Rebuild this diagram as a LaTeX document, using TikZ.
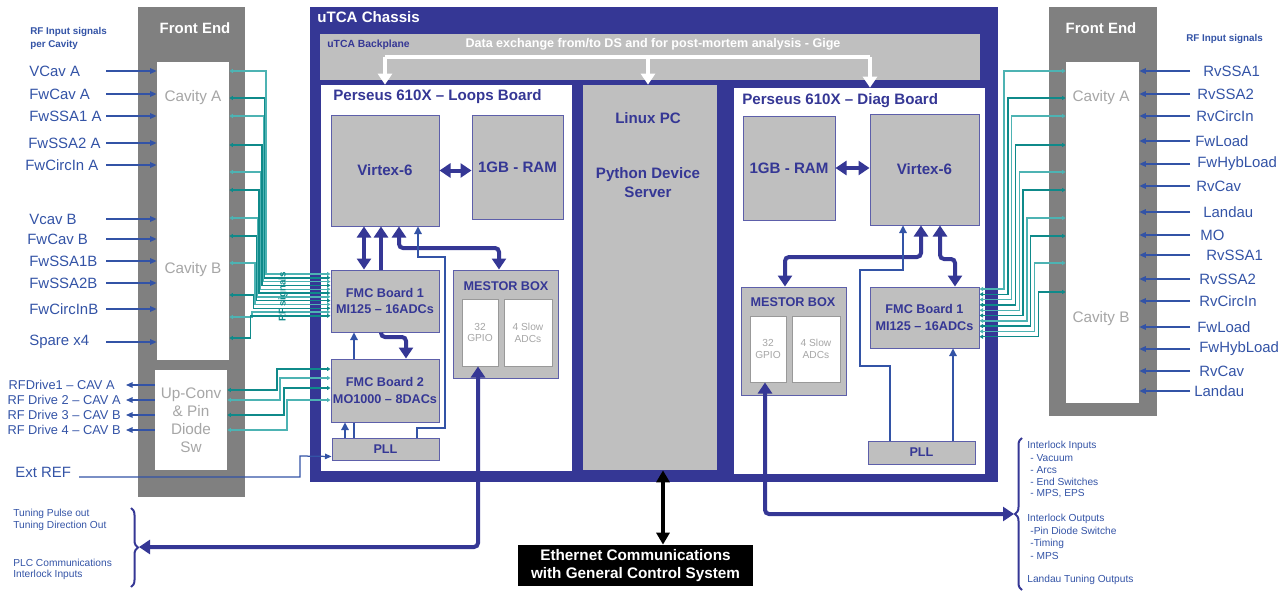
\documentclass[tikz,border=0pt]{standalone}
\usepackage{fontspec}
\setmainfont{Liberation Sans}
\usepackage{tikz}
\usetikzlibrary{positioning}
\usetikzlibrary{arrows.meta}
\usetikzlibrary{math}
\usetikzlibrary{calc}
\usetikzlibrary{decorations.pathreplacing}

\definecolor{chassisblue}{HTML}{353795}
\definecolor{signalblue}{HTML}{3353A6}
\definecolor{panelgray}{HTML}{808080}
\definecolor{chipgray}{HTML}{BFBFBF}
\definecolor{cavgray}{HTML}{A6A6A6}
\definecolor{rfdark}{HTML}{0F8A8A}
\definecolor{rflight}{HTML}{4DB3B3}

\tikzset{
  corners/.style n args={4}{inner sep=0pt, minimum width={(#3-#1)*0.2mm}, minimum height={(#4-#2)*0.2mm},
    at={({(#1+#3)/2},{(#2+#4)/2})}},
  panel/.style={fill=panelgray},
  cavbox/.style={fill=white},
  cavtext/.style={text=cavgray, font=\fontsize{8.7}{10.2}\selectfont, align=center},
  fetitle/.style={text=white, font=\bfseries\fontsize{8.5}{10}\selectfont},
  chip/.style={fill=chipgray, draw=chassisblue!80, line width=0.2mm,
    text=chassisblue, font=\bfseries\fontsize{8.6}{10.5}\selectfont, align=center},
  fmc/.style={chip, font=\bfseries\fontsize{7.2}{9.6}\selectfont},
  chiptext/.style={text=chassisblue, font=\bfseries\fontsize{8.6}{10.8}\selectfont, align=center},
  mestortitle/.style={text=chassisblue, font=\bfseries\fontsize{7.2}{9}\selectfont},
  subchip/.style={fill=white, draw=gray!80, line width=0.2mm,
    text=cavgray, font=\fontsize{5.8}{6.8}\selectfont, align=center},
  board/.style={fill=white},
  boardtitle/.style={anchor=west, inner sep=0pt, text=chassisblue, font=\bfseries\fontsize{8.6}{10}\selectfont},
  siglabel/.style={anchor=west, inner sep=0pt, text=signalblue, font=\fontsize{8.5}{10}\selectfont},
  drivelabel/.style={anchor=east, inner sep=0pt, text=signalblue, font=\fontsize{7.3}{9}\selectfont},
  notelabel/.style={anchor=west, inner sep=0pt, text=signalblue, font=\fontsize{5.8}{7}\selectfont},
  headlabel/.style={anchor=north west, inner sep=0pt, text=signalblue, font=\bfseries\fontsize{5.6}{7.4}\selectfont, align=left},
  sig/.style={signalblue, line width=0.25mm, -{Triangle[length=1.3mm,width=1.1mm]}},
  link/.style={signalblue, line width=0.25mm, -{Triangle[length=1.5mm,width=1.5mm]}},
  rf/.style={line width=0.28mm, {Triangle[length=0.7mm,width=0.8mm]}-{Triangle[length=0.7mm,width=0.8mm]}},
  bus/.style={chassisblue, line width=0.8mm, rounded corners=0.8mm, -{Triangle[length=2.2mm,width=2.8mm]}},
  busboth/.style={bus, {Triangle[length=2.2mm,width=2.8mm]}-{Triangle[length=2.2mm,width=2.8mm]}},
  datalink/.style={white, line width=0.8mm, -{Triangle[length=2.2mm,width=2.8mm]}},
  ethlink/.style={black, line width=0.8mm, {Triangle[length=2.4mm,width=2.6mm]}-{Triangle[length=2.4mm,width=2.6mm]}},
  curly/.style={chassisblue, line width=0.4mm, decorate, decoration={brace, amplitude=1.4mm}},
}

\begin{document}
\begin{tikzpicture}[x=0.2mm, y=-0.2mm]

  \tikzmath{
    \bundlestepL = 1.4; % shift of the vertical runs, left bundle
    \bundlegapL  = 3.8; % spacing of the lines at FMC board 1, loops
    \bundlestepR = 3.8; % shift of the vertical runs, right bundle
    \bundlegapR  = 5.3; % spacing of the lines at FMC board 1, diag
  }

  \useasboundingbox (0,0) rectangle (1287,591);

  % Left front end
  \node[panel, corners={138}{7}{245}{497}] (feL) {};
  \node[fetitle] (feLtitle) at (195,28) {Front End};
  \node[cavbox, corners={157}{62}{229}{360}] (cavL) {};
  \node[cavtext] (cavLa) at (193,98) {Cavity A};
  \node[cavtext] (cavLb) at (193,270) {Cavity B};
  \node[cavbox, cavtext, corners={155}{370}{227}{470}] (upconv) {Up-Conv\\\& Pin\\Diode\\Sw};

  % Right front end
  \node[panel, corners={1049}{7}{1157}{416}] (feR) {};
  \node[fetitle] (feRtitle) at (1101,28) {Front End};
  \node[cavbox, corners={1066}{62}{1139}{403}] (cavR) {};
  \node[cavtext] (cavRa) at (1101,98) {Cavity A};
  \node[cavtext] (cavRb) at (1101,319) {Cavity B};

  % uTCA chassis and backplane
  \node[fill=chassisblue, corners={310}{7}{998}{482}] (chassis) {};
  \node[anchor=west, inner sep=0pt, text=white, font=\bfseries\fontsize{8.6}{10}\selectfont] (chassistitle) at (317,17) {uTCA Chassis};
  \node[fill=chipgray, corners={320}{34}{980}{80}] (backplane) {};
  \node[anchor=west, inner sep=0pt, text=chassisblue, font=\bfseries\fontsize{5.9}{7}\selectfont] (bptitle) at (327,45) {uTCA Backplane};
  \node[text=white, font=\bfseries\fontsize{7.15}{8}\selectfont] (bpdata) at (653,44) {Data exchange from/to DS and for post-mortem analysis - Gige};

  % Boards
  \node[board, corners={321}{85}{572}{471}] (loops) {};
  \node[boardtitle] (loopstitle) at (333,97) {Perseus 610X \textendash{} Loops Board};
  \node[board, corners={734}{88}{985}{474}] (diag) {};
  \node[boardtitle] (diagtitle) at (742,101) {Perseus 610X \textendash{} Diag Board};
  \node[fill=chipgray, corners={583}{85}{717}{470}] (linux) {};
  \node[chiptext] (linuxname) at (648,118) {Linux PC};
  \node[chiptext] (linuxsrv) at (648,183) {Python Device\\Server};

  % Loops board parts
  \node[chip, corners={331}{115}{439}{226}] (virtL) {Virtex-6};
  \node[chip, corners={472}{115}{563}{219}] (ramL) {1GB - RAM};
  \node[fmc, corners={331}{270}{439}{332}] (fmcL1) {FMC Board 1\\MI125 \textendash{} 16ADCs};
  \node[fmc, corners={331}{359}{439}{422}] (fmcL2) {FMC Board 2\\MO1000 \textendash{} 8DACs};
  \node[fmc, corners={332}{438}{439}{460}] (pllL) {PLL};
  \node[chip, corners={453}{270}{558}{378}] (mestorL) {};
  \node[mestortitle] (mestorLtitle) at (506,286) {MESTOR BOX};
  \node[subchip, corners={462}{299}{498}{366}] (gpioL) {32\\GPIO};
  \node[subchip, corners={504}{299}{552}{366}] (adcL) {4 Slow\\ADCs};

  % Diag board parts
  \node[chip, corners={743}{116}{835}{220}] (ramD) {1GB - RAM};
  \node[chip, corners={870}{114}{979}{225}] (virtD) {Virtex-6};
  \node[fmc, corners={870}{287}{979}{348}] (fmcD) {FMC Board 1\\MI125 \textendash{} 16ADCs};
  \node[fmc, corners={868}{441}{975}{464}] (pllD) {PLL};
  \node[chip, corners={741}{287}{846}{395}] (mestorD) {};
  \node[mestortitle] (mestorDtitle) at (793,302) {MESTOR BOX};
  \node[subchip, corners={750}{316}{786}{382}] (gpioD) {32\\GPIO};
  \node[subchip, corners={792}{316}{840}{382}] (adcD) {4 Slow\\ADCs};

  % Ethernet box
  \node[fill=black, text=white, font=\bfseries\fontsize{8.7}{10.2}\selectfont, align=center,
        corners={518}{545}{753}{586}] (eth) {Ethernet Communications\\with General Control System};

  % Backplane data exchange
  \coordinate (bpL) at (385,57);
  \coordinate (bpM) at (648,57);
  \coordinate (bpR) at (870,57);
  \draw[white, line width=0.8mm] (bpL) -- (bpR);
  \draw[datalink] (bpL) -- (bpL |- loops.north);
  \draw[datalink] (bpM) -- (bpM |- linux.north);
  \draw[datalink] (bpR) -- (bpR |- diag.north);

  % Left RF inputs
  \node[headlabel] (headL) at (30,27) {RF Input signals\\per Cavity};
  \foreach \name/\xl/\y in {VCav A/29/71, FwCav A/29/94, FwSSA1 A/29/116, FwSSA2 A/28/143,
      FwCircIn A/25/165, Vcav B/29/219, FwCav B/27/239, FwSSA1B/29/261, FwSSA2B/29/283,
      FwCircInB/29/309, Spare x4/29/342} {
    \node[siglabel] (inL-\y) at (\xl,\y) {\name};
    \coordinate (inLs-\y) at (106,\y);
    \draw[sig] (inLs-\y) -- (inLs-\y -| cavL.west);
  }

  % RF drive outputs
  \foreach \name/\xl/\y in {RFDrive1 \textendash{} CAV A/115/385, RF Drive 2 \textendash{} CAV A/121/400,
      RF Drive 3 \textendash{} CAV B/121/415, RF Drive 4 \textendash{} CAV B/121/430} {
    \node[drivelabel] (drv-\y) at (\xl,\y) {\name};
    \coordinate (drvs-\y) at (126,\y);
    \draw[sig] (drvs-\y -| upconv.west) -- (drvs-\y);
  }

  % Ext REF
  \node[siglabel] (extref) at (15,472) {Ext REF};
  \coordinate (extrefs) at (79,477);
  \draw[sig] (extrefs) -- (300,477) -- (300,456) -- ([yshift=0.8mm]pllL.south west);

  % RF signals into FMC board 1 (loops)
  \foreach \yc/\col [count=\i from 0] in {71/rflight, 98/rfdark, 116/rflight, 145/rfdark, 172/rflight,
      190/rfdark, 218/rflight, 236/rfdark, 263/rflight, 295/rfdark, 317/rflight, 338/rfdark} {
    \pgfmathsetmacro{\xv}{266-\bundlestepL*\i}
    \pgfmathsetmacro{\yh}{274+\bundlegapL*\i}
    \draw[rf, color=\col] (cavL.east |- 0,\yc) -- (\xv,\yc) -- (\xv,\yh) -- (fmcL1.west |- 0,\yh);
  }
  \node[rotate=90, inner sep=0pt, text=rfdark, font=\bfseries\fontsize{5.6}{7}\selectfont] (rflabel) at (283,297) {RF signals};

  % DAC outputs to up-converter
  \foreach \yf/\yu/\xv/\col in {369/390/277/rfdark, 378/400/280/rflight, 388/415/284/rfdark, 400/430/287/rflight}
    \draw[rf, color=\col] (fmcL2.west |- 0,\yf) -- (\xv,\yf) -- (\xv,\yu) -- (upconv.east |- 0,\yu);

  % RF signals into FMC board 1 (diag)
  \foreach \yc/\col [count=\i from 0] in {71/rflight, 98/rfdark, 116/rflight, 145/rfdark, 172/rflight,
      190/rfdark, 218/rflight, 236/rfdark, 263/rflight, 292/rfdark} {
    \pgfmathsetmacro{\xv}{1004+\bundlestepR*\i}
    \pgfmathsetmacro{\yh}{289+\bundlegapR*\i}
    \draw[rf, color=\col] (cavR.west |- 0,\yc) -- (\xv,\yc) -- (\xv,\yh) -- (fmcD.east |- 0,\yh);
  }

  % Right RF inputs
  \node[headlabel] (headR) at (1186,34) {RF Input signals};
  \foreach \name/\xl/\y in {RvSSA1/1203/71, RvSSA2/1197/94, RvCircIn/1196/116, FwLoad/1195/141,
      FwHybLoad/1197/164, RvCav/1196/186, Landau/1203/212, MO/1200/235, RvSSA1/1206/255,
      RvSSA2/1199/279, RvCircIn/1199/301, FwLoad/1197/327, FwHybLoad/1199/349,
      RvCav/1199/371, Landau/1194/391} {
    \node[siglabel] (inR-\y) at (\xl,\y) {\name};
    \coordinate (inRs-\y) at (1190,\y);
    \draw[sig] (inRs-\y) -- (inRs-\y -| cavR.east);
  }

  % Loops board connections
  \draw[busboth] (virtL.east) -- (virtL.east -| ramL.west);
  \draw[busboth] (364,0 |- fmcL1.north) -- (364,0 |- virtL.south);
  \draw[bus] (381,0 |- fmcL1.north) -- (381,0 |- virtL.south);
  \draw[busboth] (399,0 |- virtL.south) |- (499,248) -- (499,0 |- mestorL.north);
  \draw[bus] (381,0 |- fmcL1.south) |- (406,337) -- (406,0 |- fmcL2.north);
  \draw[link] (354,0 |- fmcL2.north) -- (354,0 |- fmcL1.south);
  \draw[link] (345,0 |- pllL.north) -- (345,0 |- fmcL2.south);
  \draw[signalblue, line width=0.25mm] (354,0 |- pllL.north) -- (354,0 |- fmcL2.south);
  \draw[link] (417,0 |- pllL.north) |- (445,428) |- (418,257) -- (418,0 |- virtL.south);

  % Diag board connections
  \draw[busboth] (ramD.east |- 0,168) -- (virtD.west |- 0,168);
  \draw[busboth] (940,0 |- virtD.south) |- (955,259) -- (955,0 |- fmcD.north);
  \draw[busboth] (921,0 |- virtD.south) |- (785,257) -- (785,0 |- mestorD.north);
  \draw[link] (890,0 |- pllD.north) |- (860,366) |- (903,270) -- (903,0 |- virtD.south);
  \draw[link] (953,0 |- pllD.north) -- (953,0 |- fmcD.south);

  % Ethernet link
  \draw[ethlink] (663,0 |- linux.south) -- (663,0 |- eth.north);

  % Left brace and notes
  \coordinate (braceL) at (139,547);
  \draw[curly] (131,508) -- (131,587);
  \draw[busboth] (478,0 |- gpioL.south) -- (478,547) -- (braceL);
  \node[notelabel] (tunepulse) at (13,514) {Tuning Pulse out};
  \node[notelabel] (tunedir) at (13,526) {Tuning Direction Out};
  \node[notelabel] (plccom) at (13,563) {PLC Communications};
  \node[notelabel] (intlkL) at (13,575) {Interlock Inputs};

  % Right brace and notes
  \coordinate (braceR) at (1014,514);
  \draw[curly] (1022,590) -- (1022,438);
  \draw[busboth] (765,0 |- gpioD.south) -- (765,514) -- (braceR);
  \foreach \txt/\xl/\y in {Interlock Inputs/1027/446, - Vacuum/1030/458, - Arcs/1030/470,
      - End Switches/1030/482, {- MPS, EPS}/1030/494, Interlock Outputs/1027/519,
      -Pin Diode Switche/1030/531, -Timing/1030/544, - MPS/1030/556,
      Landau Tuning Outputs/1027/580}
    \node[notelabel] (note-\y) at (\xl,\y) {\txt};

\end{tikzpicture}
\end{document}
